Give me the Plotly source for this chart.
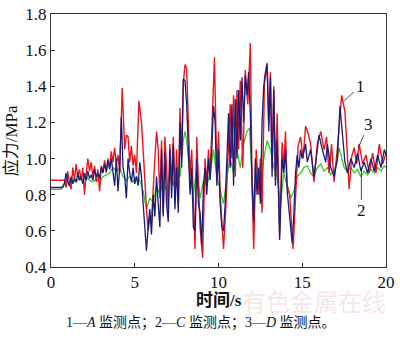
import plotly.graph_objects as go

# Series 1 (A monitoring point, red)
t1 = [0.0, 0.8, 0.9, 1.0, 1.1, 1.2, 1.3, 1.4, 1.5, 1.6, 1.7, 1.8, 1.9, 2.0, 2.1, 2.2, 2.3, 2.4, 2.5, 2.6,
      2.7, 2.8, 2.9, 3.0, 3.1, 3.2, 3.3, 3.4, 3.5, 3.6, 3.7, 3.8, 3.9, 4.0, 4.1, 4.25, 4.4, 4.5, 4.6, 4.7,
      4.8, 4.9, 5.0, 5.1, 5.25, 5.4, 5.5, 5.6, 5.7, 5.8, 5.9, 6.0, 6.1, 6.2, 6.3, 6.4, 6.5, 6.6, 6.7, 6.8,
      6.9, 7.0, 7.1, 7.2, 7.3, 7.4, 7.5, 7.6, 7.7, 7.8, 7.9, 8.0, 8.1, 8.2, 8.3, 8.4, 8.5, 8.6, 8.7, 8.8,
      8.9, 9.05, 9.2, 9.3, 9.4, 9.5, 9.6, 9.76, 9.9, 10.0, 10.1, 10.2, 10.3, 10.45, 10.6, 10.7, 10.8, 10.9,
      11.0, 11.1, 11.2, 11.3, 11.45, 11.6, 11.75, 11.9, 12.0, 12.1, 12.25, 12.4, 12.5, 12.6, 12.75, 12.9,
      13.0, 13.1, 13.2, 13.3, 13.4, 13.5, 13.65, 13.8, 13.9, 14.0, 14.1, 14.25, 14.45, 14.6, 14.75, 14.9,
      15.05, 15.2, 15.35, 15.5, 15.7, 15.9, 16.1, 16.3, 16.45, 16.6, 16.75, 16.9, 17.1, 17.35, 17.55, 17.7,
      17.8, 17.95, 18.1, 18.25, 18.4, 18.6, 18.8, 19.0, 19.2, 19.4, 19.6, 19.8, 20.0]
v1 = [0.88, 0.88, 0.84, 0.93, 0.86, 0.83, 0.95, 0.88, 0.97, 0.90, 0.94, 0.88, 0.95, 0.80, 0.92, 1.00, 0.93, 0.98, 0.90, 0.96,
      0.87, 0.94, 0.82, 0.96, 0.93, 0.99, 0.92, 1.00, 0.95, 1.04, 0.98, 1.06, 0.97, 1.02, 0.92, 1.39, 1.05, 1.13, 1.12, 0.98,
      1.07, 0.96, 1.02, 0.92, 1.32, 1.20, 1.05, 0.85, 0.72, 0.60, 0.68, 0.65, 0.85, 1.00, 1.15, 1.05, 0.78, 1.10, 0.70, 1.12,
      0.95, 0.72, 1.08, 0.85, 1.12, 0.80, 1.05, 0.75, 1.28, 1.00, 1.42, 1.52, 1.50, 1.20, 0.90, 1.05, 0.70, 0.50, 1.12, 0.85,
      0.62, 0.45, 1.00, 0.85, 1.05, 0.90, 1.12, 1.56, 0.90, 1.15, 0.80, 0.62, 0.50, 0.75, 1.10, 1.30, 1.00, 1.35,
      0.90, 1.38, 1.05, 1.43, 0.95, 1.49, 1.30, 1.64, 0.90, 0.50, 1.05, 0.80, 1.00, 0.70, 1.45, 1.53,
      1.20, 1.48, 0.95, 1.40, 0.90, 1.25, 0.58, 1.09, 0.95, 1.15, 0.85, 0.80, 0.50, 0.80, 1.07, 1.12,
      1.00, 1.18, 1.14, 1.08, 0.87, 1.08, 1.15, 1.05, 1.12, 0.92, 1.08, 0.87, 1.06, 1.35, 1.26, 1.01,
      0.83, 1.01, 1.06, 0.97, 1.08, 0.97, 1.02, 0.92, 1.03, 0.92, 1.08, 0.97, 1.03]

# Series 3 (D monitoring point, dark blue)
t3 = [0.0, 0.7, 0.8, 0.9, 1.0, 1.1, 1.2, 1.3, 1.4, 1.5, 1.6, 1.7, 1.8, 1.9, 2.0, 2.1, 2.2, 2.3, 2.4, 2.5,
      2.6, 2.7, 2.8, 2.9, 3.0, 3.1, 3.2, 3.3, 3.4, 3.5, 3.6, 3.7, 3.8, 3.9, 4.0, 4.1, 4.2, 4.3, 4.4, 4.5,
      4.6, 4.7, 4.8, 4.9, 5.0, 5.1, 5.2, 5.3, 5.4, 5.5, 5.7, 5.8, 5.9, 6.0, 6.1, 6.2, 6.3, 6.4, 6.5, 6.6,
      6.7, 6.8, 6.9, 7.0, 7.1, 7.2, 7.3, 7.4, 7.5, 7.6, 7.7, 7.8, 7.9, 8.0, 8.1, 8.2, 8.3, 8.4, 8.5, 8.6,
      8.7, 8.8, 8.9, 9.0, 9.1, 9.2, 9.3, 9.4, 9.5, 9.6, 9.7, 9.8, 9.9, 10.0, 10.1, 10.2, 10.3, 10.4, 10.5,
      10.6, 10.7, 10.8, 10.9, 11.0, 11.1, 11.2, 11.3, 11.4, 11.5, 11.6, 11.7, 11.8, 11.9, 12.0, 12.1, 12.2,
      12.3, 12.4, 12.5, 12.6, 12.7, 12.9, 13.0, 13.1, 13.2, 13.3, 13.4, 13.5, 13.65, 13.8, 13.9, 14.0, 14.1,
      14.3, 14.4, 14.5, 14.6, 14.7, 14.8, 14.9, 15.0, 15.2, 15.3, 15.5, 15.7, 15.9, 16.0, 16.2, 16.4, 16.5,
      16.7, 16.9, 17.1, 17.25, 17.4, 17.55, 17.7, 17.9, 18.1, 18.3, 18.5, 18.7, 18.9, 19.1, 19.3, 19.5,
      19.7, 19.9, 20.0]
v3 = [0.84, 0.84, 0.86, 0.92, 0.87, 0.85, 0.90, 0.86, 0.89, 0.87, 0.92, 0.88, 0.90, 0.86, 0.92, 0.88, 0.93, 0.89, 0.91, 0.88,
      0.94, 0.90, 0.92, 0.89, 0.95, 0.92, 0.97, 0.93, 0.99, 0.94, 1.00, 0.93, 0.85, 1.00, 0.82, 0.95, 1.23, 0.95, 0.90, 0.78,
      1.00, 0.92, 0.87, 0.95, 0.86, 0.90, 0.85, 0.98, 0.90, 0.75, 0.49, 0.62, 0.72, 0.58, 0.80, 0.68, 0.90, 0.75, 0.62, 1.05,
      0.68, 1.03, 0.75, 0.65, 1.05, 0.78, 1.08, 0.72, 0.95, 0.70, 1.20, 0.95, 1.44, 1.43, 1.30, 1.05, 0.80, 0.95, 0.62, 0.60,
      1.00, 0.75, 0.70, 0.52, 0.85, 0.95, 0.80, 1.00, 0.88, 1.05, 1.29, 1.20, 0.85, 1.05, 0.75, 0.62, 0.60, 0.75, 1.00,
      1.25, 0.95, 1.30, 0.85, 1.33, 1.00, 1.38, 1.10, 1.45, 1.20, 1.46, 1.35, 1.48, 1.25, 0.85, 0.65, 1.00,
      0.80, 0.95, 0.75, 1.20, 1.40, 1.52, 1.15, 1.45, 0.90, 1.38, 0.85, 1.10, 0.55, 1.00, 0.92, 1.05, 0.82,
      0.62, 0.53, 0.70, 0.92, 1.02, 0.95, 1.05, 1.00, 1.08, 0.98, 1.05, 0.90, 1.05, 1.13, 1.05, 0.98, 1.08,
      0.95, 0.90, 1.00, 1.29, 1.15, 0.98, 0.92, 1.00, 0.95, 1.03, 0.93, 0.98, 0.92, 1.00, 0.93, 1.02,
      0.95, 1.05, 1.02]

# Series 2 (C monitoring point, green)
t2 = [0.0, 0.6, 0.7, 0.9, 1.1, 1.3, 1.5, 1.7, 1.9, 2.1, 2.3, 2.5, 2.7, 2.9, 3.1, 3.3, 3.5, 3.7, 3.9, 4.1,
      4.3, 4.5, 4.7, 4.9, 5.1, 5.3, 5.5, 5.7, 5.9, 6.1, 6.3, 6.5, 6.7, 6.9, 7.1, 7.3, 7.5, 7.7, 7.9, 8.0,
      8.1, 8.3, 8.5, 8.7, 8.9, 9.1, 9.3, 9.5, 9.7, 9.9, 10.1, 10.3, 10.5, 10.7, 10.9, 11.1, 11.3, 11.5, 11.7,
      11.85, 12.0, 12.1, 12.3, 12.5, 12.7, 12.9, 13.1, 13.3, 13.5, 13.7, 13.9, 14.1, 14.3, 14.5, 14.7, 14.9,
      15.1, 15.3, 15.5, 15.7, 15.9, 16.1, 16.3, 16.5, 16.7, 16.9, 17.05, 17.2, 17.35, 17.5, 17.7, 17.9,
      18.1, 18.3, 18.5, 18.7, 18.9, 19.1, 19.3, 19.5, 19.7, 19.9, 20.0]
v2 = [0.83, 0.83, 0.85, 0.88, 0.86, 0.88, 0.87, 0.90, 0.88, 0.90, 0.88, 0.87, 0.89, 0.87, 0.90, 0.91, 0.92, 0.95, 0.93, 0.95,
      0.90, 0.88, 0.90, 0.87, 0.90, 0.88, 0.82, 0.72, 0.78, 0.76, 0.85, 0.80, 0.88, 0.82, 0.92, 0.85, 0.95, 0.90, 1.10, 1.15,
      1.10, 0.90, 0.80, 0.95, 0.78, 0.88, 0.85, 0.92, 1.05, 0.90, 0.82, 0.75, 0.90, 1.00, 0.92, 1.05, 0.95, 1.08, 1.15,
      1.17, 0.90, 0.75, 0.92, 0.85, 1.00, 1.10, 1.05, 0.95, 0.90, 0.75, 0.92, 0.85, 0.78, 0.82, 0.90, 0.92,
      0.95, 0.96, 0.92, 0.90, 0.95, 0.97, 0.93, 0.95, 0.91, 0.93, 0.97, 1.06, 1.00, 0.95, 0.93, 0.95,
      0.92, 0.94, 0.90, 0.93, 0.91, 0.94, 0.92, 0.95, 0.93, 0.96, 0.95]

x_ticks = [0, 5, 10, 15, 20]
y_ticks = [0.4, 0.6, 0.8, 1.0, 1.2, 1.4, 1.6, 1.8]

SERIF = "Liberation Serif, Times New Roman, serif"
CJK = "Liberation Serif, Noto Sans CJK SC, serif"

fig = go.Figure()
fig.add_trace(go.Scatter(x=t2, y=v2, mode="lines", line=dict(color="#2ecc2e", width=1.3), showlegend=False))
fig.add_trace(go.Scatter(x=t1, y=v1, mode="lines", line=dict(color="#e8171f", width=1.4), showlegend=False))
fig.add_trace(go.Scatter(x=t3, y=v3, mode="lines", line=dict(color="#1c1c78", width=1.3), showlegend=False))

axis_common = dict(showline=True, linecolor="#333333", linewidth=1, mirror=True, ticks="inside",
                   ticklen=4, tickcolor="#333333", showgrid=False, zeroline=False,
                   ticklabeloverflow="allow",
                   tickfont=dict(family=SERIF, size=17, color="#111111"))
fig.update_xaxes(range=[0, 20], tickvals=x_ticks, ticktext=[str(v) for v in x_ticks], **axis_common)
fig.update_yaxes(range=[0.4, 1.8], tickvals=y_ticks, ticktext=[f"{v:.1f}" for v in y_ticks], **axis_common)

# curve labels with leader lines
labels = [("1", 17.47, 1.316, 18.45, 1.40), ("3", 18.35, 1.06, 18.95, 1.19), ("2", 18.53, 0.95, 18.53, 0.71)]
for txt, px, py, tx, ty in labels:
    fig.add_annotation(x=px, y=py, ax=tx, ay=ty, axref="x", ayref="y", xref="x", yref="y",
                       text=txt, showarrow=True, arrowhead=0, arrowwidth=0.8, arrowcolor="#222222",
                       font=dict(family=SERIF, size=17, color="#111111"))

# axis title (y)
fig.add_annotation(xref="paper", yref="paper", x=-0.117, y=0.5, xanchor="center", yanchor="middle",
                   text="应力/MPa", textangle=-90,
                   showarrow=False, font=dict(family=CJK, size=17, color="#111111"))
# watermark
fig.add_annotation(xref="paper", yref="paper", x=1.005, y=-0.134, xanchor="right", yanchor="middle",
                   text="有色金属在线",
                   showarrow=False, font=dict(family="Noto Sans CJK SC", size=24, color="rgba(225,150,150,0.25)"))
# axis title (x)
fig.add_annotation(xref="paper", yref="paper", x=0.5, y=-0.134, xanchor="center", yanchor="middle",
                   text="<b>时间/s</b>",
                   showarrow=False, font=dict(family=CJK, size=17, color="#111111"))
# caption
fig.add_annotation(xref="paper", yref="paper", x=0.447, y=-0.222, xanchor="center", yanchor="middle",
                   text="1—<i>A</i> 监测点；2—<i>C</i> 监测点；3—<i>D</i> 监测点。",
                   showarrow=False, font=dict(family=CJK, size=14, color="#111111"))

fig.update_layout(width=400, height=338, margin=dict(l=51, r=7, t=5, b=71),
                  plot_bgcolor="white", paper_bgcolor="white")
fig.write_html("out.html")
